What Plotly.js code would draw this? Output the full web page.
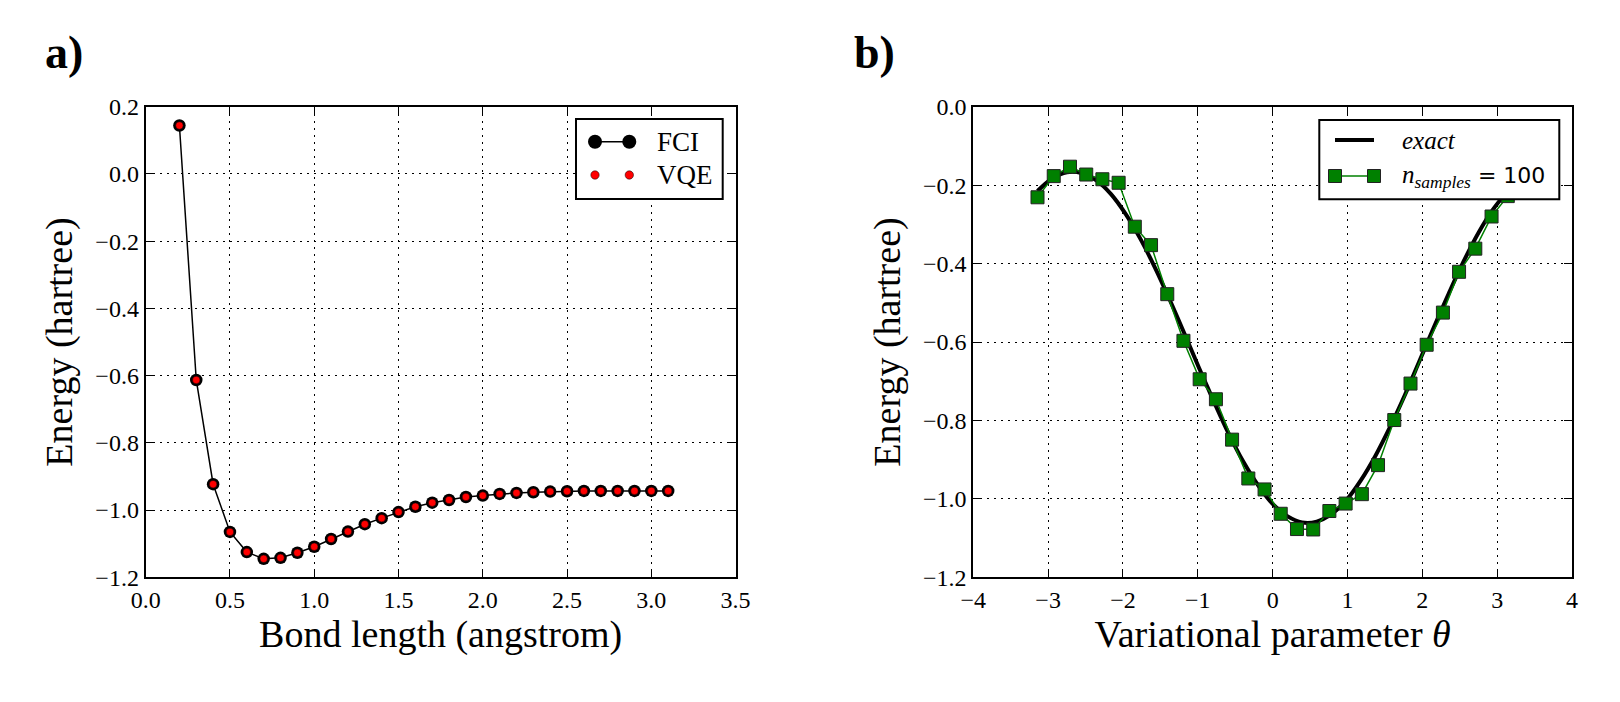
<!DOCTYPE html>
<html>
<head>
<meta charset="utf-8">
<script src="https://cdn.plot.ly/plotly-3.0.1.min.js"></script>
<style>html,body{margin:0;padding:0;background:#fff;}#chart{width:1620px;height:702px;}</style>
</head>
<body>
<div id="chart"></div>
<script>
// ---- Panel a) data ----
var bondLength = [0.2,0.3,0.4,0.5,0.6,0.7,0.8,0.9,1.0,1.1,1.2,1.3,1.4,1.5,1.6,1.7,1.8,1.9,2.0,2.1,2.2,2.3,2.4,2.5,2.6,2.7,2.8,2.9,3.0,3.1];
var fciEnergy = [0.144,-0.613,-0.923,-1.065,-1.125,-1.145,-1.142,-1.127,-1.109,-1.086,-1.064,-1.042,-1.024,-1.006,-0.990,-0.978,-0.970,-0.961,-0.957,-0.952,-0.949,-0.947,-0.945,-0.944,-0.943,-0.943,-0.943,-0.943,-0.943,-0.943];
var vqeEnergy = [0.144,-0.613,-0.923,-1.065,-1.125,-1.145,-1.142,-1.127,-1.109,-1.086,-1.064,-1.042,-1.024,-1.006,-0.990,-0.978,-0.970,-0.961,-0.957,-0.952,-0.949,-0.947,-0.945,-0.944,-0.943,-0.943,-0.943,-0.943,-0.943,-0.943];

// ---- Panel b) data ----
var thetaExact = [-3.142,-2.945,-2.749,-2.553,-2.356,-2.160,-1.963,-1.767,-1.571,-1.374,-1.178,-0.982,-0.785,-0.589,-0.393,-0.196,0.000,0.196,0.393,0.589,0.785,0.982,1.178,1.374,1.571,1.767,1.963,2.160,2.356,2.553,2.749,2.945,3.142];
var energyExact = [-0.215,-0.183,-0.167,-0.169,-0.188,-0.223,-0.274,-0.337,-0.411,-0.493,-0.579,-0.667,-0.752,-0.833,-0.905,-0.965,-1.013,-1.044,-1.060,-1.058,-1.039,-1.004,-0.953,-0.890,-0.816,-0.735,-0.648,-0.560,-0.475,-0.394,-0.322,-0.262,-0.215];
var thetaSamples = [-3.142,-2.925,-2.708,-2.491,-2.275,-2.058,-1.842,-1.625,-1.408,-1.192,-0.975,-0.758,-0.542,-0.325,-0.108,0.108,0.325,0.542,0.758,0.975,1.192,1.408,1.625,1.842,2.058,2.275,2.491,2.708,2.925,3.142];
var energySamples = [-0.231,-0.177,-0.153,-0.173,-0.185,-0.194,-0.306,-0.353,-0.478,-0.597,-0.695,-0.746,-0.849,-0.948,-0.976,-1.038,-1.077,-1.078,-1.031,-1.012,-0.988,-0.914,-0.799,-0.706,-0.607,-0.525,-0.421,-0.362,-0.280,-0.228];

// ---- tick labels / text ----
var panelLabels = ['a)', 'b)'];
var legendA = ['FCI', 'VQE'];
var legendB = ['<i>exact</i>', '<i>n</i><sub><i>samples</i></sub><span style="font-family:DejaVu Sans;font-size:22px"> = 100</span>'];

var SERIF = 'Liberation Serif';
var W = 1620, H = 702;
function px(x){ return x / W; }
function py(y){ return 1 - y / H; }

var traces = [
  {x: bondLength, y: fciEnergy, name: 'FCI', type: 'scatter', mode: 'lines+markers',
   line: {color: '#000', width: 1.5}, marker: {symbol: 'circle', size: 12.5, color: '#000'},
   xaxis: 'x', yaxis: 'y', showlegend: false},
  {x: bondLength, y: vqeEnergy, name: 'VQE', type: 'scatter', mode: 'markers',
   marker: {symbol: 'circle', size: 7.5, color: '#ff0000', line: {color: '#000', width: 0.5}},
   xaxis: 'x', yaxis: 'y', showlegend: false},
  {x: thetaExact, y: energyExact, name: 'exact', type: 'scatter', mode: 'lines',
   line: {color: '#000', width: 4, shape: 'spline'}, xaxis: 'x2', yaxis: 'y2', showlegend: false},
  {x: thetaSamples, y: energySamples, name: 'n_samples = 100', type: 'scatter', mode: 'lines+markers',
   line: {color: '#008000', width: 1.5},
   marker: {symbol: 'square', size: 13, color: '#008000', line: {color: '#222', width: 1}},
   xaxis: 'x2', yaxis: 'y2', showlegend: false}
];

var yDom = [py(577.3), py(106.7)];
function axisBase(){
  return {
    showline: true, linecolor: '#000', linewidth: 2, mirror: 'allticks',
    ticks: 'inside', ticklen: 8, tickwidth: 1, tickcolor: '#000',
    showgrid: true, gridcolor: '#000', gridwidth: 1, griddash: '2px,5px',
    zeroline: false, tickfont: {family: SERIF, size: 24, color: '#000'},
    fixedrange: true
  };
}
var xa = Object.assign(axisBase(), {domain: [px(145.7), px(735.6)], range: [0, 3.5], dtick: 0.5, tick0: 0, tickformat: '.1f', anchor: 'y',
  title: {text: 'Bond length (angstrom)', font: {family: SERIF, size: 38, color: '#000'}, standoff: 5}});
var ya = Object.assign(axisBase(), {domain: yDom, range: [-1.2, 0.2], dtick: 0.2, tick0: 0, tickformat: '.1f', anchor: 'x',
  title: {text: 'Energy (hartree)', font: {family: SERIF, size: 38, color: '#000'}, standoff: 11}});
var xb = Object.assign(axisBase(), {domain: [px(973.3), px(1572)], range: [-4, 4], dtick: 1, tick0: 0, anchor: 'y2',
  title: {text: 'Variational parameter <i>θ</i>', font: {family: SERIF, size: 38, color: '#000'}, standoff: 5}});
var yb = Object.assign(axisBase(), {domain: yDom, range: [-1.2, 0], dtick: 0.2, tick0: 0, tickformat: '.1f', anchor: 'x2',
  title: {text: 'Energy (hartree)', font: {family: SERIF, size: 38, color: '#000'}, standoff: 11}});

function circ(cx, cy, r, fill, lc, lw){
  return {type: 'circle', layer: 'above', xref: 'paper', yref: 'paper', xsizemode: 'pixel', ysizemode: 'pixel',
    xanchor: px(cx), yanchor: py(cy), x0: -r, x1: r, y0: -r, y1: r, fillcolor: fill, line: {color: lc, width: lw}};
}
function sq(cx, cy, r, fill, lc, lw){
  return {type: 'rect', layer: 'above', xref: 'paper', yref: 'paper', xsizemode: 'pixel', ysizemode: 'pixel',
    xanchor: px(cx), yanchor: py(cy), x0: -r, x1: r, y0: -r, y1: r, fillcolor: fill, line: {color: lc, width: lw}};
}
function seg(x0, y0, x1, y1, c, w){
  return {type: 'line', layer: 'above', xref: 'paper', yref: 'paper', x0: px(x0), x1: px(x1), y0: py(y0), y1: py(y1), line: {color: c, width: w}};
}
function box(x0, y0, x1, y1){
  return {type: 'rect', layer: 'above', xref: 'paper', yref: 'paper', x0: px(x0), x1: px(x1), y0: py(y1), y1: py(y0),
    fillcolor: '#fff', line: {color: '#000', width: 2}};
}

var shapes = [
  // legend a)
  box(576, 119, 722.7, 199),
  seg(595, 141.7, 629.3, 141.7, '#000', 1.5),
  circ(595, 141.7, 7, '#000', '#000', 0),
  circ(629.3, 141.7, 7, '#000', '#000', 0),
  circ(595, 175, 4.2, '#ff0000', '#000', 0.5),
  circ(629.3, 175, 4.2, '#ff0000', '#000', 0.5),
  // legend b)
  box(1319.3, 120, 1559.3, 199.3),
  seg(1335, 140, 1374, 140, '#000', 4),
  seg(1335, 176, 1374, 176, '#008000', 1.5),
  sq(1335, 176, 6.5, '#008000', '#222', 1),
  sq(1374, 176, 6.5, '#008000', '#222', 1)
];

function txt(t, x, y, size, extra){
  return Object.assign({text: t, xref: 'paper', yref: 'paper', x: px(x), y: py(y), xanchor: 'left', yanchor: 'middle',
    showarrow: false, font: {family: SERIF, size: size, color: '#000'}}, extra || {});
}
var annotations = [
  txt('<b>' + panelLabels[0] + '</b>', 64, 52, 46, {xanchor: 'center'}),
  txt('<b>' + panelLabels[1] + '</b>', 875, 52, 46, {xanchor: 'center'}),
  txt(legendA[0], 655, 141.7, 27),
  txt(legendA[1], 655, 175, 27),
  txt(legendB[0], 1400, 140, 25),
  txt(legendB[1], 1400, 176, 25)
];

var layout = {
  width: W, height: H, margin: {l: 0, r: 0, t: 0, b: 0},
  paper_bgcolor: '#fff', plot_bgcolor: '#fff',
  xaxis: xa, yaxis: ya, xaxis2: xb, yaxis2: yb,
  shapes: shapes, annotations: annotations, showlegend: false
};
Plotly.newPlot('chart', traces, layout, {displayModeBar: false, staticPlot: true});
</script>
</body>
</html>
